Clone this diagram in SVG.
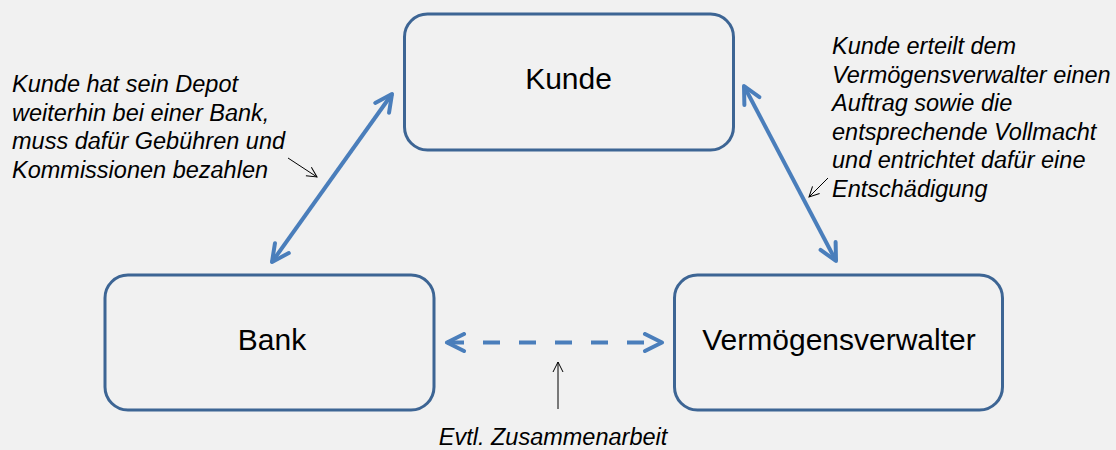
<svg xmlns="http://www.w3.org/2000/svg" width="1116" height="450" viewBox="0 0 1116 450">
  <style>
    .box { fill: none; stroke: #3d6594; stroke-width: 3; }
    .lbl { font-family: "Liberation Sans", Arial, sans-serif; font-size: 30px; fill: #000; text-anchor: middle; }
    .note { font-family: "Liberation Sans", Arial, sans-serif; font-size: 23.5px; font-style: italic; fill: #000; }
    .conn { fill: none; stroke: #4a7ebb; stroke-width: 4; }
    .thin { fill: none; stroke: #000; stroke-width: 1; }
  </style>
  <defs>
    <marker id="bh" viewBox="-20 -11 23 22" refX="0" refY="0" markerWidth="23" markerHeight="22" markerUnits="userSpaceOnUse" orient="auto-start-reverse">
      <path d="M-17,-8.5 L0,0 L-17,8.5" fill="none" stroke="#4a7ebb" stroke-width="4" stroke-linecap="round" stroke-linejoin="round"/>
    </marker>
    <marker id="sh" viewBox="-12 -7 14 14" refX="0" refY="0" markerWidth="14" markerHeight="14" markerUnits="userSpaceOnUse" orient="auto">
      <path d="M-10,-5 L0,0 L-10,5" fill="none" stroke="#000" stroke-width="1"/>
    </marker>
  </defs>
  <rect width="1116" height="450" fill="#f1f1f1"/>

  <g id="node-kunde">
    <rect class="box" x="404.5" y="14" width="329" height="136" rx="23"/>
    <text class="lbl" x="568.5" y="89">Kunde</text>
  </g>
  <g id="node-bank">
    <rect class="box" x="105" y="275" width="329" height="135" rx="23"/>
    <text class="lbl" x="272" y="350">Bank</text>
  </g>
  <g id="node-vermoegensverwalter">
    <rect class="box" x="674.5" y="275" width="328" height="135" rx="23"/>
    <text class="lbl" x="839" y="350">Vermögensverwalter</text>
  </g>

  <g id="connectors">
    <line class="conn" x1="272" y1="262" x2="392" y2="94" marker-start="url(#bh)" marker-end="url(#bh)"/>
    <line class="conn" x1="744" y1="86" x2="836" y2="261" marker-start="url(#bh)" marker-end="url(#bh)"/>
    <line class="conn" x1="447" y1="342.5" x2="662" y2="342.5" stroke-dasharray="17 19" marker-start="url(#bh)" marker-end="url(#bh)"/>
  </g>

  <g id="annotations">
    <line class="thin" x1="288" y1="158" x2="317" y2="177" marker-end="url(#sh)"/>
    <line class="thin" x1="828" y1="178" x2="809" y2="197" marker-end="url(#sh)"/>
    <line class="thin" x1="558" y1="409" x2="558" y2="362" marker-end="url(#sh)"/>
    <text class="note" x="12" y="92">Kunde hat sein Depot</text>
    <text class="note" x="12" y="120.5">weiterhin bei einer Bank,</text>
    <text class="note" x="12" y="149">muss dafür Gebühren und</text>
    <text class="note" x="12" y="177.5">Kommissionen bezahlen</text>
    <text class="note" x="832" y="54">Kunde erteilt dem</text>
    <text class="note" x="832" y="82.5">Vermögensverwalter einen</text>
    <text class="note" x="832" y="111">Auftrag sowie die</text>
    <text class="note" x="832" y="139.5">entsprechende Vollmacht</text>
    <text class="note" x="832" y="168">und entrichtet dafür eine</text>
    <text class="note" x="832" y="196.5">Entschädigung</text>
    <text class="note" x="553" y="445" text-anchor="middle">Evtl. Zusammenarbeit</text>
  </g>
</svg>
